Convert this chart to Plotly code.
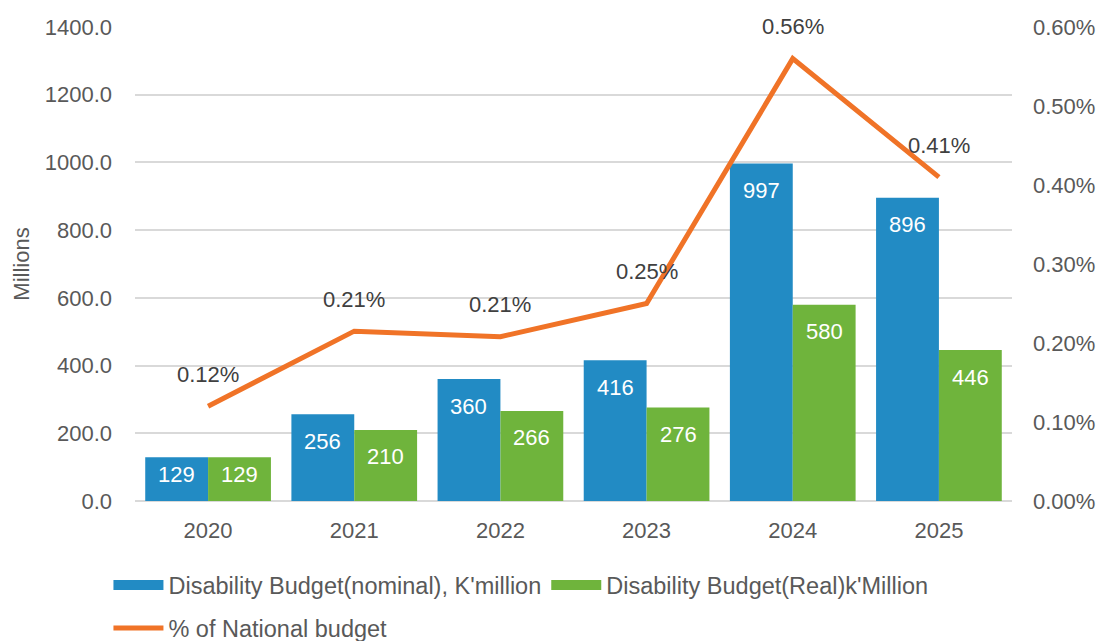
import plotly.graph_objects as go

years = ["2020", "2021", "2022", "2023", "2024", "2025"]
nominal = [129, 256, 360, 416, 997, 896]
real = [129, 210, 266, 276, 580, 446]
pct_national = [0.0012, 0.00215, 0.00208, 0.0025, 0.0056, 0.0041]

name_nominal = "Disability Budget(nominal), K'million"
name_real = "Disability Budget(Real)k'Million"
name_pct = "% of National budget"

FONT = "Liberation Sans, Arial, sans-serif"
BLUE = "#228BC4"
GREEN = "#6FB43C"
ORANGE = "#F07327"
GRAY = "#595959"
FS = 22
LFS = 23.5
BARGAP = 0.14
W, H = 1101, 641
MT, MB = 27, 140
YMAX = 1400
PX_PER_UNIT = (H - MT - MB) / YMAX

fig = go.Figure()
fig.add_trace(go.Bar(
    x=years, y=nominal, name=name_nominal, showlegend=False,
    marker=dict(color=BLUE, line=dict(width=0)),
))
fig.add_trace(go.Bar(
    x=years, y=real, name=name_real, showlegend=False,
    marker=dict(color=GREEN, line=dict(width=0)),
))
fig.add_trace(go.Scatter(
    x=years, y=pct_national, name=name_pct, yaxis="y2",
    mode="lines", line=dict(color=ORANGE, width=5), legend="legend2",
))
# legend swatches drawn as wide blocks, like the reference
fig.add_trace(go.Scatter(x=[None], y=[None], mode="lines", name=name_nominal,
                         line=dict(color=BLUE, width=13), legend="legend"))
fig.add_trace(go.Scatter(x=[None], y=[None], mode="lines", name=name_real,
                         line=dict(color=GREEN, width=13), legend="legend"))

# bar value labels, placed inside the top of each bar
off = (1 - BARGAP) / 4
for i, (n, r) in enumerate(zip(nominal, real)):
    for xv, v in ((i - off, n), (i + off, r)):
        shift = min(27, v * PX_PER_UNIT - 26)
        fig.add_annotation(x=xv, xref="x", y=v, yref="y", text=str(v), showarrow=False,
                           yanchor="middle", yshift=-shift,
                           font=dict(size=FS, color="white", family=FONT))

# line labels
for i, p in enumerate(pct_national):
    fig.add_annotation(x=i, xref="x", y=p, yref="y2", text=f"{p*100:.2f}%", showarrow=False,
                       yshift=32, font=dict(size=FS, color="#404040", family=FONT))

fig.update_layout(
    width=W, height=H,
    margin=dict(l=135, r=89, t=MT, b=MB, autoexpand=False),
    paper_bgcolor="white", plot_bgcolor="white",
    font=dict(family=FONT, size=FS, color=GRAY),
    barmode="group", bargap=BARGAP, bargroupgap=0,
    xaxis=dict(type="category", categoryorder="array", categoryarray=years,
               range=[-0.5, len(years) - 0.5], showgrid=False, showline=False, zeroline=False,
               ticklabelstandoff=14, tickfont=dict(size=FS, color=GRAY)),
    yaxis=dict(range=[0, YMAX], dtick=200, tickformat=".1f", showgrid=True,
               gridcolor="#D9D9D9", gridwidth=1.5, zeroline=True, zerolinecolor="#D9D9D9",
               zerolinewidth=1.5, showline=False, ticklabelstandoff=22,
               title=dict(text="Millions", standoff=9, font=dict(size=FS, color=GRAY)),
               tickfont=dict(size=FS, color=GRAY)),
    yaxis2=dict(range=[0, 0.006], dtick=0.001, tickformat=".2%", overlaying="y", side="right",
                showgrid=False, zeroline=False, showline=False, ticklabelstandoff=20,
                tickfont=dict(size=FS, color=GRAY)),
    legend=dict(orientation="h", xref="container", yref="container", x=0.0985, xanchor="left",
                y=0.087, yanchor="middle",
                font=dict(size=LFS, color=GRAY), itemwidth=50, traceorder="normal",
                bgcolor="rgba(0,0,0,0)"),
    legend2=dict(orientation="h", xref="container", yref="container", x=0.0985, xanchor="left",
                 y=0.02, yanchor="middle",
                 font=dict(size=LFS, color=GRAY), itemwidth=50,
                 bgcolor="rgba(0,0,0,0)"),
)

fig.write_html("out.html")
